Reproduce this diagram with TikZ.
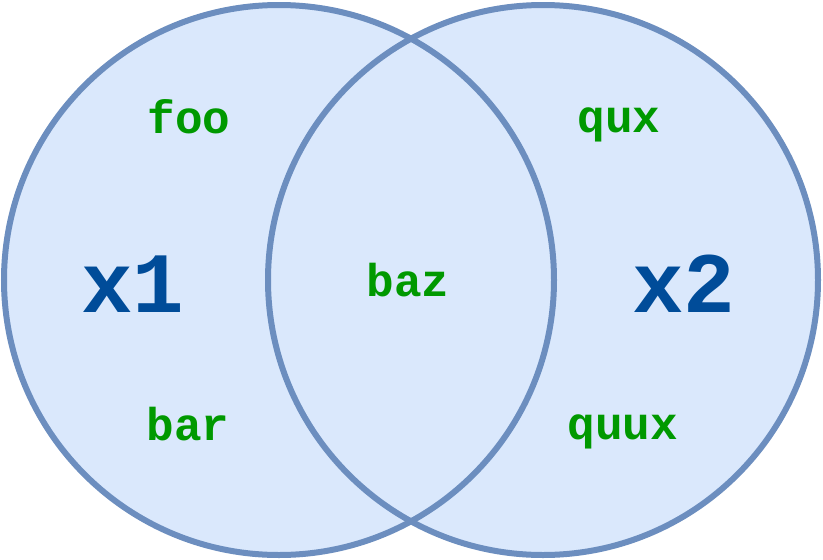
\documentclass[tikz,border=0pt]{standalone}
\usepackage{fontspec}
\setmonofont{Liberation Mono}
\definecolor{setfill}{HTML}{DAE8FC}
\definecolor{setline}{HTML}{6C8EBF}
\definecolor{itemgreen}{HTML}{009900}
\definecolor{labelblue}{HTML}{004C99}
\tikzset{
  item/.style={text=itemgreen, font=\ttfamily\bfseries\fontsize{46}{46}\selectfont, inner sep=0pt, anchor=base},
  setlabel/.style={text=labelblue, font=\ttfamily\bfseries\fontsize{86}{86}\selectfont, inner sep=0pt, anchor=base},
  setcircle/.style={circle, minimum size=550pt, inner sep=0pt}
}
\begin{document}
\begin{tikzpicture}[x=1pt,y=-1pt]
\useasboundingbox (0,0) rectangle (823,560);
\node[setcircle, fill=setfill] (c1) at (279,280) {};
\node[setcircle, fill=setfill] (c2) at (543,280) {};
\node[setcircle, draw=setline, line width=6pt] at (c1.center) {};
\node[setcircle, draw=setline, line width=6pt] at (c2.center) {};
\node[item] (foo) at (189,133) {foo};
\node[item] (bar) at (188,440) {bar};
\node[item] (baz) at (408,296) {baz};
\node[item] (qux) at (619,132) {qux};
\node[item] (quux) at (623,439) {quux};
\node[setlabel] (x1) at (133,312) {x1};
\node[setlabel] (x2) at (684,312) {x2};
\end{tikzpicture}
\end{document}
